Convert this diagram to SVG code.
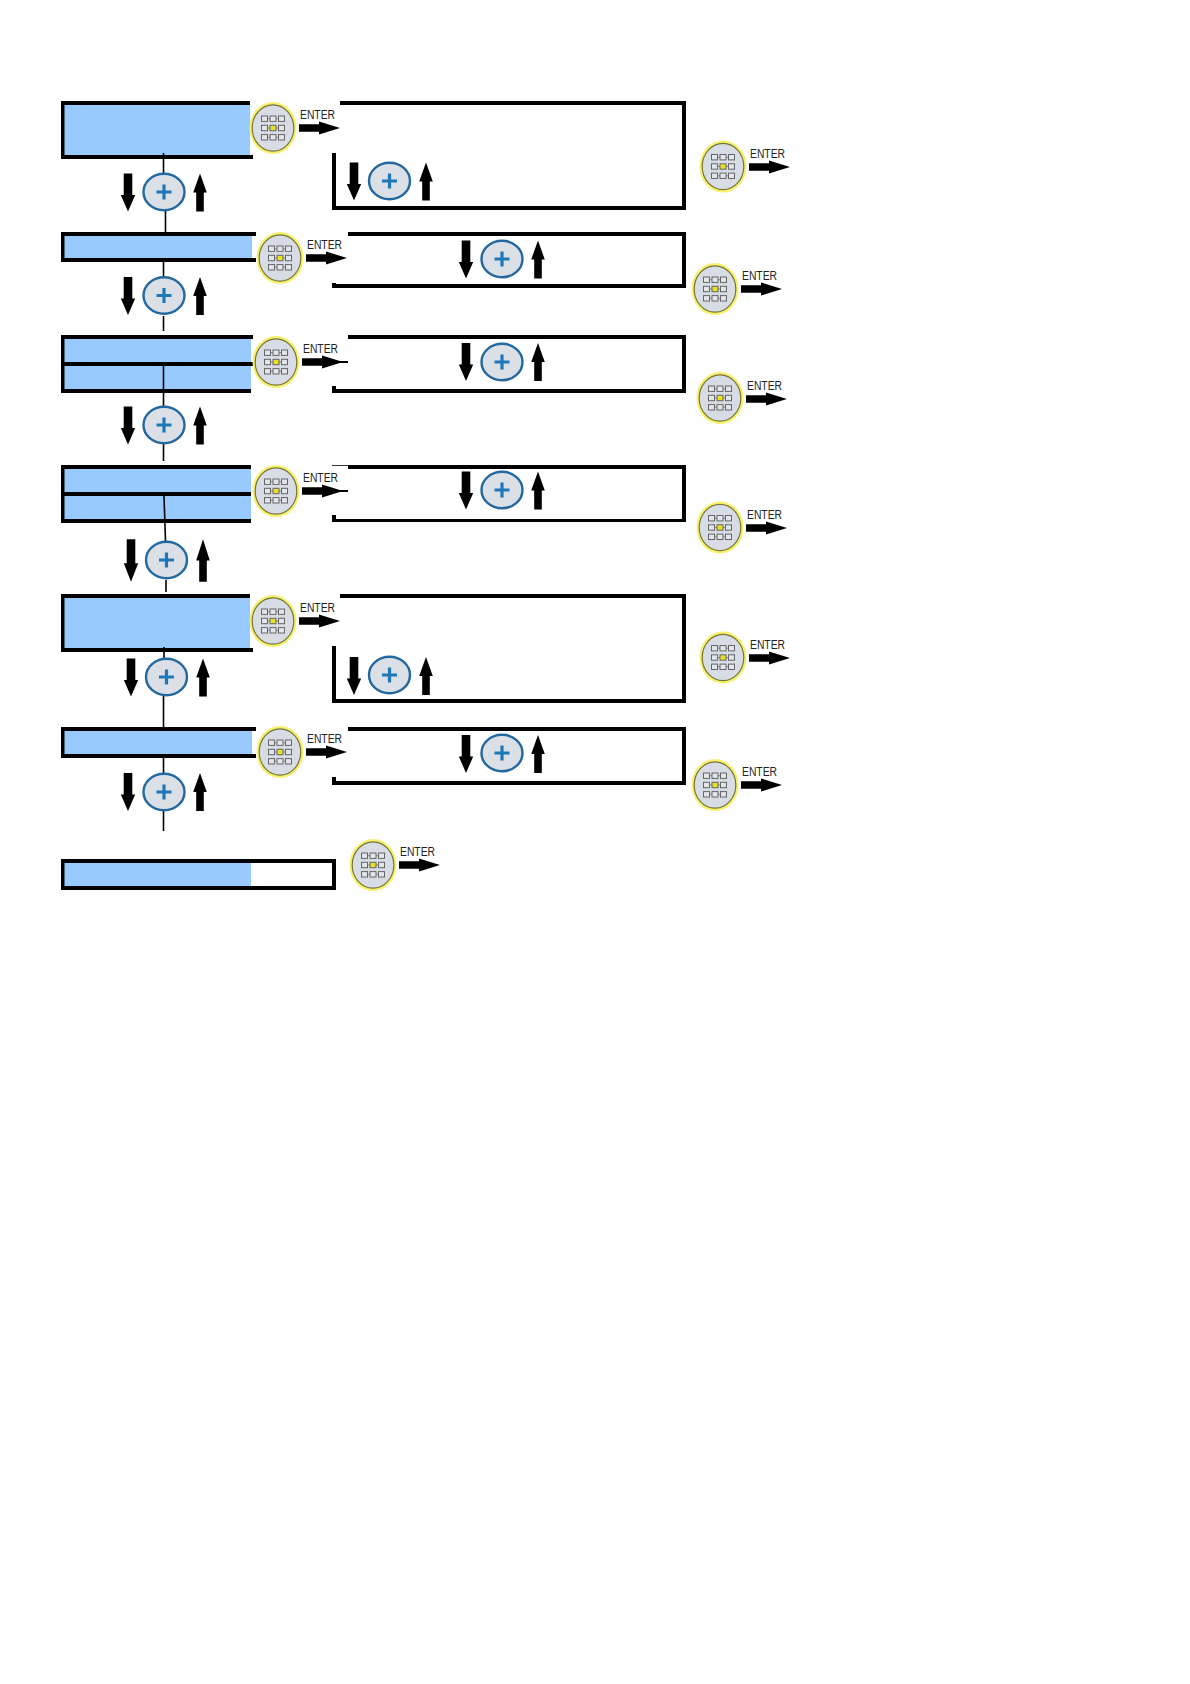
<svg xmlns="http://www.w3.org/2000/svg" width="1190" height="1684" viewBox="0 0 1190 1684">
<style>
.bar{fill:#000}
.blue{fill:#99caff}
.wire{stroke:#000;stroke-width:1.6;fill:none}
.et{font-family:"Liberation Sans",Arial,sans-serif;font-size:12.500px;fill:#222}
.sq{fill:#e2e6ec;stroke:#666;stroke-width:1}
</style>
<defs>
<g id="keypad">
<ellipse rx="23.500" ry="26" fill="#f6f06a"/>
<ellipse rx="20.800" ry="23.200" fill="#d8dde5" stroke="#77763a" stroke-width="1.200"/>
<path d="M-5.500-9.300H-3M3-9.300H5.500M-5.500 0H-3M3 0H5.500M-5.500 9.300H-3M3 9.300H5.500" stroke="#777" stroke-width="0.800"/>
<g class="sq">
<rect x="-11.500" y="-12" width="6" height="5.400"/><rect x="-3" y="-12" width="6" height="5.400"/><rect x="5.500" y="-12" width="6" height="5.400"/>
<rect x="-11.500" y="-2.700" width="6" height="5.400"/><rect x="-3" y="-2.700" width="6" height="5.400" style="fill:#e8e020;stroke:#666"/><rect x="5.500" y="-2.700" width="6" height="5.400"/>
<rect x="-11.500" y="6.600" width="6" height="5.400"/><rect x="-3" y="6.600" width="6" height="5.400"/><rect x="5.500" y="6.600" width="6" height="5.400"/>
</g>
</g>
<g id="enter">
<text class="et" x="1" y="-9.500" textLength="35" lengthAdjust="spacingAndGlyphs">ENTER</text>
<path d="M0-3.800H20V-6.500L41 0 20 6.500V3.800H0Z" fill="#000"/>
</g>
<g id="plus">
<ellipse rx="20.500" ry="18.300" fill="#dbe0e7" stroke="#23689f" stroke-width="2.400"/>
<path d="M-7.500-1.600H-1.600V-7.500H1.600V-1.600H7.500V1.600H1.600V7.500H-1.600V1.600H-7.500Z" fill="#1e78b8"/>
</g>
<path id="down" d="M-4.300-19H4.300V2.500H7.200L0 19-7.200 2.500H-4.300Z" fill="#000"/>
<path id="up" d="M0-19 6.800 0H3.800V19H-3.800V0H-6.800Z" fill="#000"/>
</defs>

<g id="row1-display">
<rect class="bar" x="61" y="101" width="189" height="58"/><rect class="bar" x="250" y="155" width="3" height="4"/>
<rect class="blue" x="64.500" y="105" width="185.500" height="50"/>
<path class="bar" d="M340 101H686V210H332V153H336V206H682V105H340Z"/>
</g>
<g id="row2-display">
<rect class="bar" x="61" y="232" width="195" height="30"/>
<rect class="blue" x="64.500" y="236" width="187.500" height="22"/>
<rect fill="#fff" x="252" y="236" width="4" height="22"/>
<path class="bar" d="M348 232H686V288H332V283H336V284H682V236H348Z"/>
</g>
<g id="row3-display">
<rect class="bar" x="61" y="335" width="192" height="58"/>
<rect class="blue" x="64.500" y="339" width="186.500" height="23"/><rect class="blue" x="64.500" y="366" width="186.500" height="23"/>
<rect fill="#fff" x="251" y="339" width="2" height="23"/><rect fill="#fff" x="251" y="366" width="2" height="27"/>
<path class="bar" d="M348 335H686V393H332V386H336V389H682V339H348Z"/>
</g>
<g id="row4-display">
<rect class="bar" x="61" y="465" width="190" height="58"/>
<rect class="blue" x="64.500" y="469" width="186.500" height="23"/><rect class="blue" x="64.500" y="496" width="186.500" height="23"/>
<path class="bar" d="M348 465H686V522H332V515H336V519H682V469H348Z"/>
<rect class="bar" x="332" y="465" width="16" height="0.800"/>
</g>
<g id="row5-display">
<rect class="bar" x="61" y="594" width="189" height="58"/><rect class="bar" x="250" y="648" width="3" height="4"/>
<rect class="blue" x="64.500" y="598" width="185.500" height="50"/>
<path class="bar" d="M340 594H686V703H332V646H336V699H682V598H340Z"/>
</g>
<g id="row6-display">
<rect class="bar" x="61" y="727" width="195" height="31"/>
<rect class="blue" x="64.500" y="731" width="187.500" height="23"/>
<rect fill="#fff" x="252" y="731" width="4" height="23"/>
<path class="bar" d="M348 727H686V785H332V777H336V781H682V731H348Z"/>
</g>
<g id="row7-display">
<path class="bar" d="M61 859H336V890H61ZM332 863H65V886H332Z" fill-rule="evenodd"/>
<rect class="blue" x="64.500" y="863" width="186.500" height="23"/>
</g>

<g id="connectors">
<path class="wire" d="M163.500 153V174M165.500 211V232"/>
<path class="wire" d="M163.500 262V277M163.500 316V331"/>
<path class="wire" d="M163.500 366V406M163.500 444V461"/>
<path class="wire" d="M164 496L165.500 541M166 580V592"/>
<path class="wire" d="M164 647V659M163.500 696V728"/>
<path class="wire" d="M163.500 758V774M163.500 811V831"/>
</g>

<g id="row1-keys"><use href="#keypad" x="273" y="128"/><use href="#enter" x="299" y="128"/><use href="#plus" x="164" y="192"/><use href="#down" x="128" y="192.500"/><use href="#up" x="200" y="192.500"/></g>
<g id="row1-edit"><use href="#plus" x="389.500" y="181"/><use href="#down" x="354" y="181.500"/><use href="#up" x="426" y="181.500"/><use href="#keypad" x="723" y="166.500"/><use href="#enter" x="749" y="167"/></g>

<g id="row2-keys"><use href="#keypad" x="280" y="258"/><use href="#enter" x="306" y="258"/><use href="#plus" x="164" y="295.500"/><use href="#down" x="128" y="296"/><use href="#up" x="200" y="296"/></g>
<g id="row2-edit"><use href="#plus" x="502" y="259"/><use href="#down" x="466" y="259.500"/><use href="#up" x="538" y="259.500"/><use href="#keypad" x="715" y="289"/><use href="#enter" x="741" y="289"/></g>

<g id="row3-keys"><use href="#keypad" x="276" y="362"/><use href="#enter" x="302" y="362"/><path d="M340 361H348V363H340Z"/><use href="#plus" x="164" y="425"/><use href="#down" x="128" y="425.500"/><use href="#up" x="200" y="425.500"/></g>
<g id="row3-edit"><use href="#plus" x="502" y="362"/><use href="#down" x="466" y="362"/><use href="#up" x="538" y="362"/><use href="#keypad" x="720" y="398"/><use href="#enter" x="746" y="399"/></g>

<g id="row4-keys"><use href="#keypad" x="276" y="491"/><use href="#enter" x="302" y="491"/><path d="M340 490H348V492H340Z"/><use href="#plus" x="166.500" y="560"/><use transform="translate(131 560.500) scale(1 1.120)" href="#down"/><use transform="translate(203 560.500) scale(1 1.120)" href="#up"/></g>
<g id="row4-edit"><use href="#plus" x="502" y="490"/><use href="#down" x="466" y="490.500"/><use href="#up" x="538" y="490.500"/><use href="#keypad" x="720" y="527.500"/><use href="#enter" x="746" y="528"/></g>

<g id="row5-keys"><use href="#keypad" x="273" y="621"/><use href="#enter" x="299" y="621"/><use href="#plus" x="166.500" y="677"/><use href="#down" x="131" y="677.500"/><use href="#up" x="203" y="677.500"/></g>
<g id="row5-edit"><use href="#plus" x="389.500" y="675"/><use href="#down" x="354" y="676"/><use href="#up" x="426" y="676"/><use href="#keypad" x="723" y="657.500"/><use href="#enter" x="749" y="658"/></g>

<g id="row6-keys"><use href="#keypad" x="280" y="752"/><use href="#enter" x="306" y="752"/><use href="#plus" x="164" y="792"/><use href="#down" x="128" y="792"/><use href="#up" x="200" y="792"/></g>
<g id="row6-edit"><use href="#plus" x="502" y="753"/><use href="#down" x="466" y="754"/><use href="#up" x="538" y="754"/><use href="#keypad" x="715" y="785"/><use href="#enter" x="741" y="785"/></g>

<g id="row7-keys"><use href="#keypad" x="373" y="865"/><use href="#enter" x="399" y="865"/></g>
</svg>
